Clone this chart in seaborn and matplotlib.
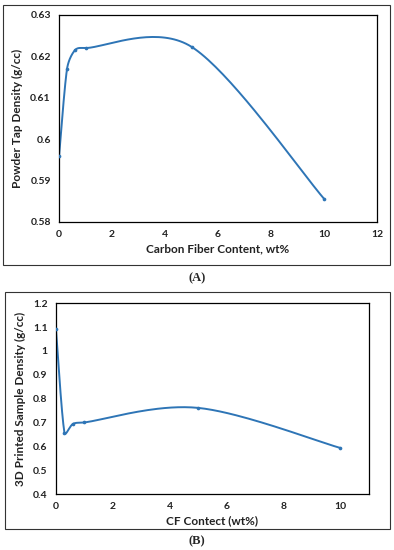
import numpy as np
import matplotlib
matplotlib.use("Agg")
import matplotlib.pyplot as plt
import seaborn as sns
from matplotlib.patches import Rectangle

# panel A: powder tap density
cf_a = [0, 0.3, 0.6, 1, 5, 10]
tap_density = [0.596, 0.617, 0.6215, 0.622, 0.6223, 0.5856]

# panel B: printed sample density
cf_b = [0, 0.3, 0.6, 1, 5, 10]
printed_density = [1.091, 0.657, 0.694, 0.70, 0.761, 0.593]

LINE = "#2E75B6"


# excel style smoothed line: catmull-rom bezier through the points,
# control arms capped relative to the segment length (screen units)
def smooth(xs, ys, kx, ky, n=40, cap=0.4):
	p = np.column_stack([np.asarray(xs) * kx, np.asarray(ys) * ky]).astype(float)
	p = np.vstack([p[0], p, p[-1]])
	out = []
	for i in range(1, len(p) - 2):
		p0, p1, p2, p3 = p[i - 1], p[i], p[i + 1], p[i + 2]
		d12 = np.linalg.norm(p2 - p1)
		a1 = (p2 - p0) / 6
		a2 = (p3 - p1) / 6
		l1, l2 = np.linalg.norm(a1), np.linalg.norm(a2)
		if l1 > cap * d12:
			a1 = a1 * cap * d12 / l1
		if l2 > cap * d12:
			a2 = a2 * cap * d12 / l2
		c1 = p1 + a1
		c2 = p2 - a2
		t = np.linspace(0, 1, n)[:, None]
		seg = (1 - t) ** 3 * p1 + 3 * (1 - t) ** 2 * t * c1 + 3 * (1 - t) * t ** 2 * c2 + t ** 3 * p2
		out.append(seg)
	out = np.vstack(out)
	return out[:, 0] / kx, out[:, 1] / ky


sns.set_theme(style="white")
plt.rcParams['font.family'] = ['Lato', 'DejaVu Sans']

fig = plt.figure(figsize=(3.94, 5.5), dpi=100)

# frames around the two panels
fig.add_artist(Rectangle((0.0076, 0.518), 0.982, 0.4727, transform=fig.transFigure,
						 fill=False, edgecolor="#333333", linewidth=0.8))
fig.add_artist(Rectangle((0.0127, 0.038), 0.977, 0.431, transform=fig.transFigure,
						 fill=False, edgecolor="#333333", linewidth=0.8))

ax1 = fig.add_axes([0.150, 0.5964, 0.807, 0.3764])
ax2 = fig.add_axes([0.142, 0.1018, 0.794, 0.347])

panels = [
	(ax1, cf_a, tap_density, (0, 12), np.arange(0, 13, 2), (0.58, 0.63),
	 [0.58, 0.59, 0.6, 0.61, 0.62, 0.63], ["0.58", "0.59", "0.6", "0.61", "0.62", "0.63"],
	 "Carbon Fiber Content, wt%", "Powder Tap Density (g/cc)"),
	(ax2, cf_b, printed_density, (0, 11), np.arange(0, 11, 2), (0.4, 1.2),
	 [0.4, 0.5, 0.6, 0.7, 0.8, 0.9, 1.0, 1.1, 1.2],
	 ["0.4", "0.5", "0.6", "0.7", "0.8", "0.9", "1", "1.1", "1.2"],
	 "CF Contect (wt%)", "3D Printed Sample Density (g/cc)"),
]

for ax, xs, ys, xlim, xt, ylim, yt, ytl, xl, yl in panels:
	bb = ax.get_position()
	kx = bb.width * 394 / (xlim[1] - xlim[0])
	ky = bb.height * 550 / (ylim[1] - ylim[0])
	sx, sy = smooth(xs, ys, kx, ky)
	ax.plot(sx, sy, color=LINE, linewidth=1.4)
	sns.scatterplot(x=xs, y=ys, ax=ax, color=LINE, s=7, edgecolor=LINE, linewidth=0, zorder=3)
	ax.set_xlim(*xlim)
	ax.set_ylim(*ylim)
	ax.set_xticks(xt)
	ax.set_xticklabels([str(v) for v in xt])
	ax.set_yticks(yt)
	ax.set_yticklabels(ytl)
	ax.tick_params(length=0, labelsize=7.5, colors="#222222", pad=6)
	for lab in ax.get_xticklabels() + ax.get_yticklabels():
		lab.set_fontweight("bold")
	for s in ax.spines.values():
		s.set_visible(True)
		s.set_color("black")
		s.set_linewidth(0.9)
	ax.set_xlabel(xl, fontsize=8.5, fontweight="bold", color="#222222", labelpad=3)
	ax.set_ylabel(yl, fontsize=8.5, fontweight="bold", color="#222222", labelpad=5)

fig.text(0.5, 1 - 278 / 550, "(A)", ha="center", va="center", fontsize=9,
		 fontweight="bold", family="Liberation Serif")
fig.text(0.5, 1 - 541 / 550, "(B)", ha="center", va="center", fontsize=9,
		 fontweight="bold", family="Liberation Serif")

fig.savefig("out.png", dpi=100)
